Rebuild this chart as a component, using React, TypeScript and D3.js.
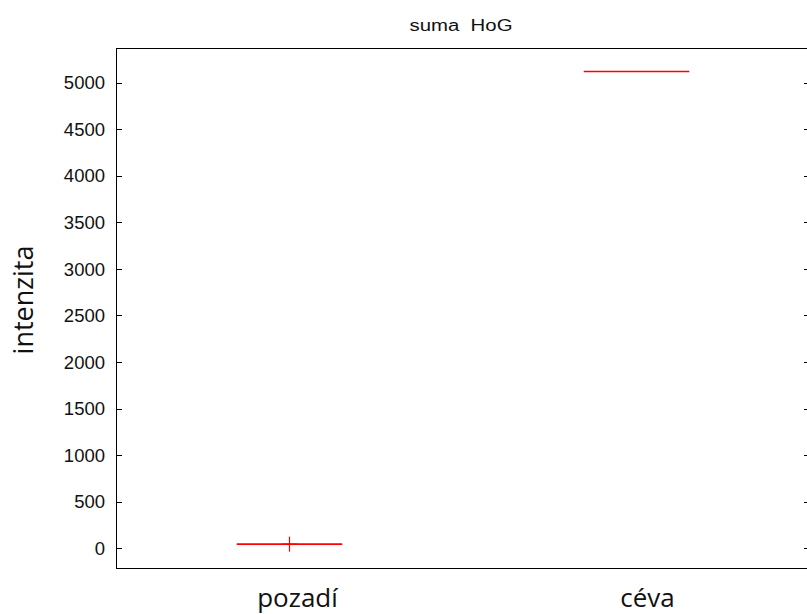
import React from "react";
import * as d3 from "d3";

const categories = ["pozadí", "céva"];
const medians = [45, 5120];
const outliers: number[][] = [[45], []];
const yTicks = [0, 500, 1000, 1500, 2000, 2500, 3000, 3500, 4000, 4500, 5000];
const yDomain = [-211, 5372];
const title = "suma\u00a0\u00a0HoG";
const yLabel = "intenzita";

const W = 807;
const H = 614;
const left = 116;
const right = 810;
const top = 48;
const bottom = 568;
const boxHalf = 0.152;

export default function App() {
  const x = d3.scaleLinear().domain([0.5, 2.5]).range([left, right]);
  const y = d3.scaleLinear().domain(yDomain).range([bottom, top]);
  const tickFont = "'Liberation Sans', Arial, sans-serif";
  return (
    <svg width={W} height={H} style={{ position: "absolute", left: 0, top: 0, background: "#fff" }}>
      <rect x={0} y={0} width={W} height={H} fill="#fff" />
      <line x1={left} x2={right} y1={top + 0.5} y2={top + 0.5} stroke="#000" strokeWidth={1} />
      <line x1={left} x2={right} y1={bottom + 0.5} y2={bottom + 0.5} stroke="#000" strokeWidth={1} />
      <line x1={left + 0.5} x2={left + 0.5} y1={top} y2={bottom + 1} stroke="#000" strokeWidth={1} />
      <line x1={right - 0.5} x2={right - 0.5} y1={top} y2={bottom + 1} stroke="#000" strokeWidth={1} />
      {yTicks.map((t) => (
        <g key={t}>
          <line x1={left} x2={left + 6} y1={Math.round(y(t)) + 0.5} y2={Math.round(y(t)) + 0.5} stroke="#000" />
          <line x1={right - 6} x2={right} y1={Math.round(y(t)) + 0.5} y2={Math.round(y(t)) + 0.5} stroke="#000" />
          <text x={left - 11} y={y(t)} dy="0.36em" textAnchor="end" fontFamily={tickFont} fontSize={18.5} fill="#111">
            {t}
          </text>
        </g>
      ))}
      <text x={(left + right) / 2 - 2} y={31} textAnchor="middle" fontFamily={tickFont} fontSize={16} textLength={103} lengthAdjust="spacingAndGlyphs" fill="#111">
        {title}
      </text>
      {categories.map((c, i) => (
        <g key={c}>
          <line
            x1={x(i + 1 - boxHalf)}
            x2={x(i + 1 + boxHalf)}
            y1={y(medians[i])}
            y2={y(medians[i])}
            stroke="#ff0000"
            strokeWidth={1.6}
          />
          {outliers[i].map((o, j) => (
            <g key={j}>
              <line x1={x(i + 1)} x2={x(i + 1)} y1={y(o) - 7.5} y2={y(o) + 7.5} stroke="#ff0000" strokeWidth={1.2} />
              <line x1={x(i + 1) - 7.5} x2={x(i + 1) + 7.5} y1={y(o)} y2={y(o)} stroke="#ff0000" strokeWidth={1.2} />
            </g>
          ))}
          <text
            x={x(i + 1) + (i === 0 ? 8 : 11)}
            y={607}
            textAnchor="middle"
            fontFamily="'Open Sans', sans-serif"
            fontSize={26}
            fill="#111"
          >
            {c}
          </text>
        </g>
      ))}
      <text
        transform={`translate(33, 300) rotate(-90)`}
        textAnchor="middle"
        fontFamily="'Open Sans', sans-serif"
        fontSize={27}
        fill="#111"
      >
        {yLabel}
      </text>
    </svg>
  );
}
